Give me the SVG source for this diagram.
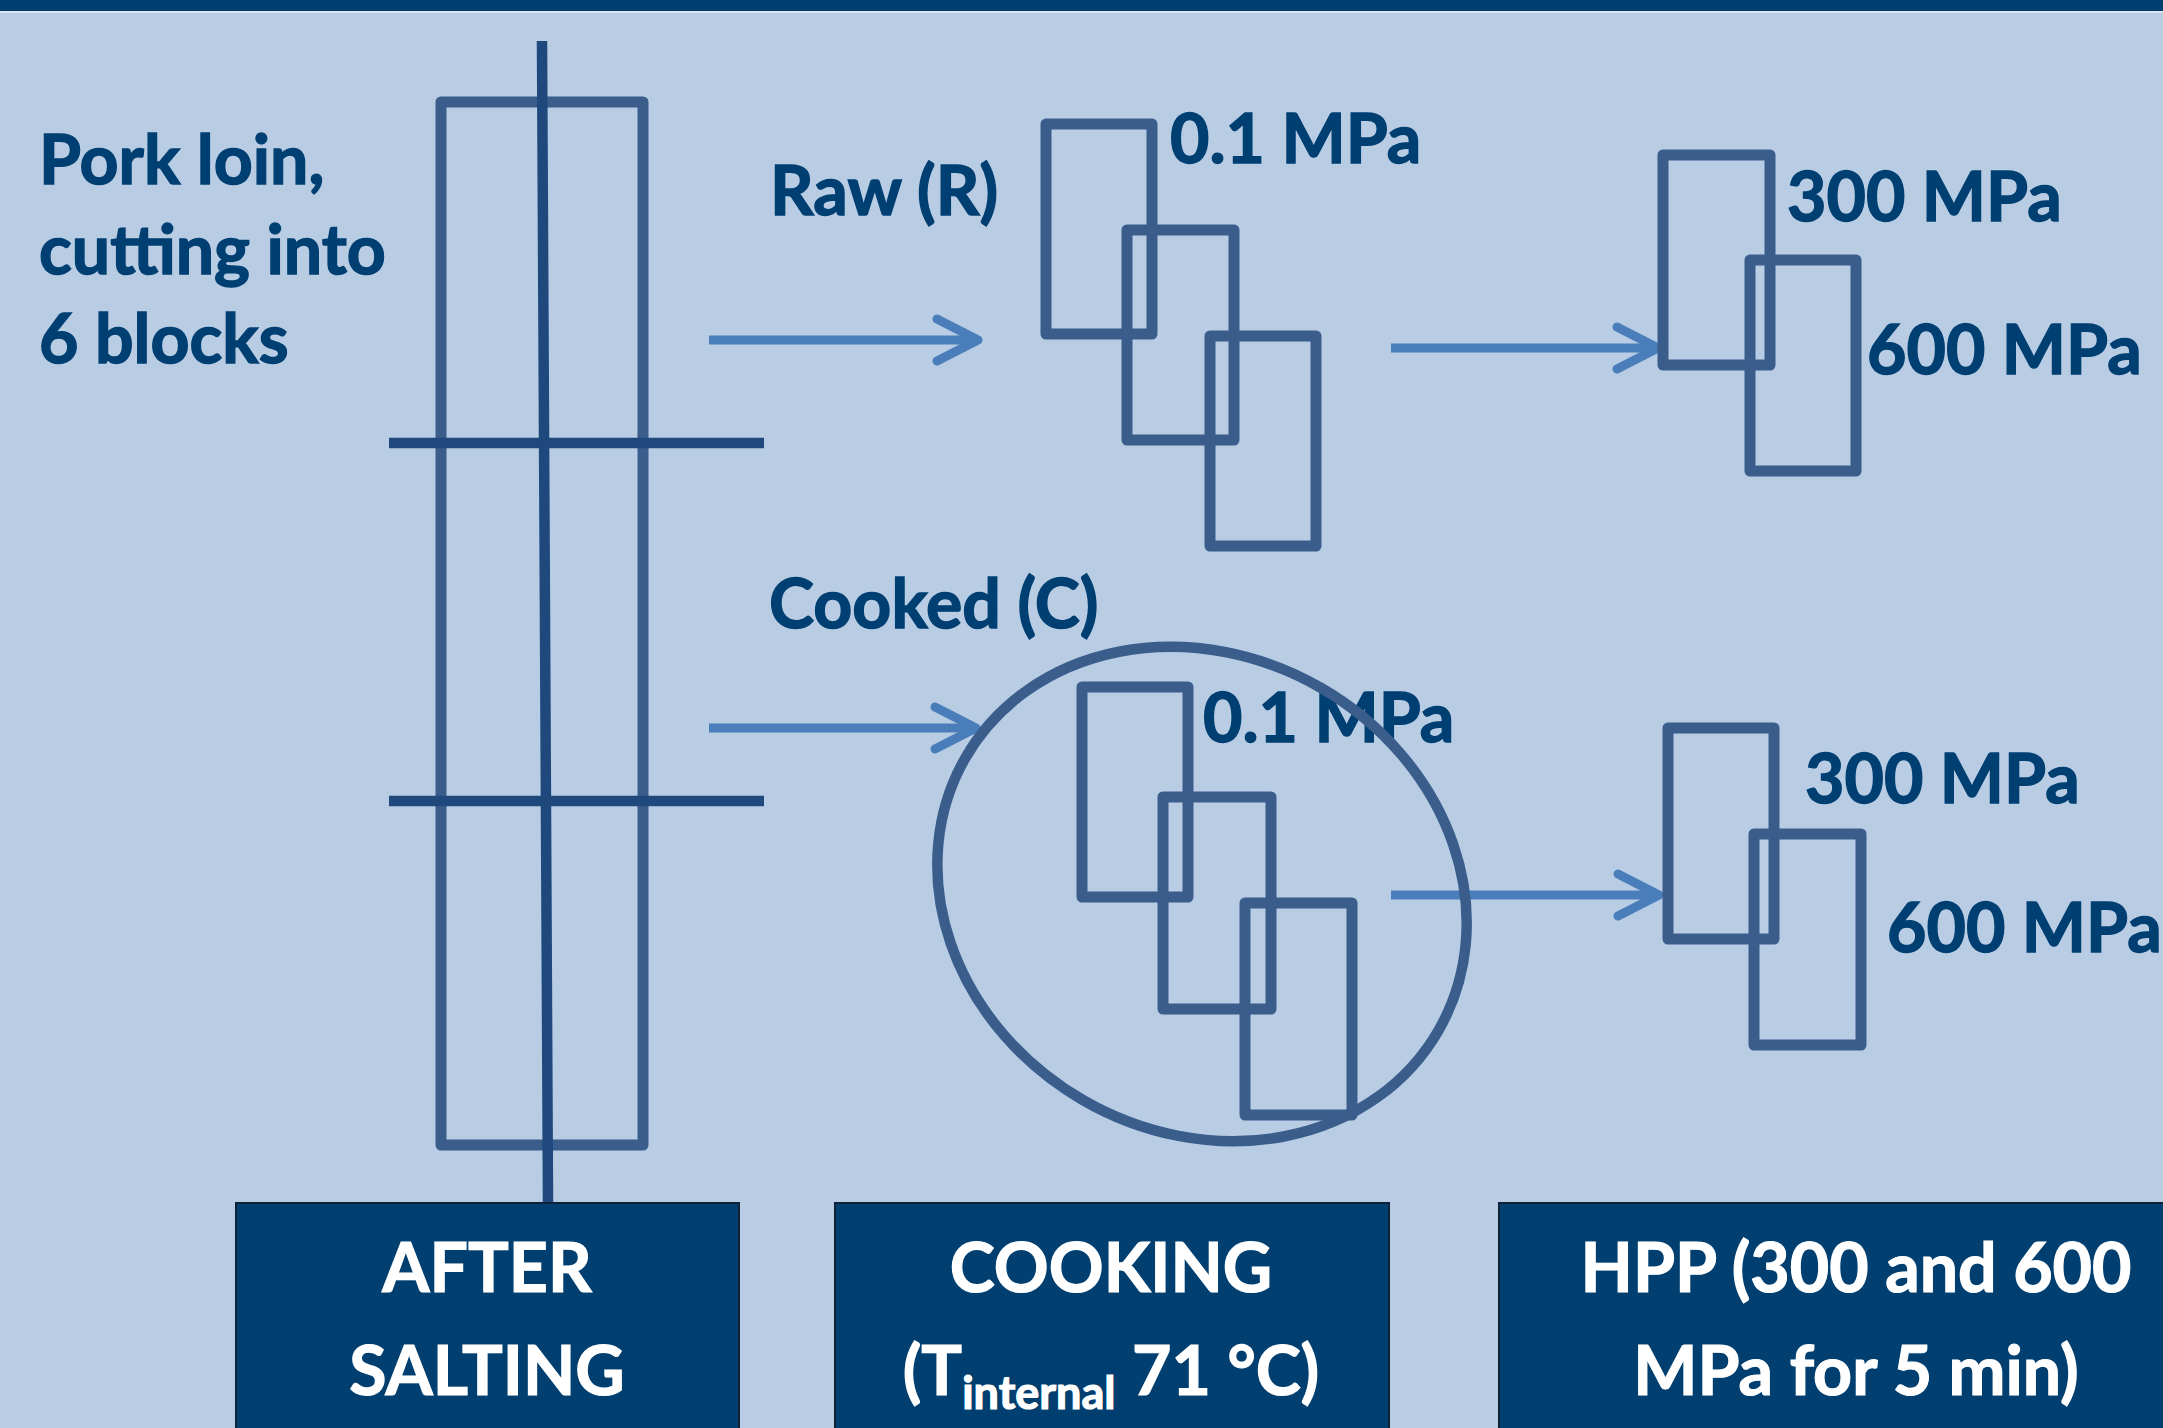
<svg xmlns="http://www.w3.org/2000/svg" width="2163" height="1428" viewBox="0 0 2163 1428">
<defs>
<style>
.bg{fill:#b8cce4}
.lbl{font-family:Lato,"Open Sans","Liberation Sans",sans-serif;font-weight:700;font-size:68px;fill:#003f72;stroke:#003f72;stroke-width:1.4}
.btxt{font-family:Lato,"Open Sans","Liberation Sans",sans-serif;font-weight:700;font-size:68px;fill:#ffffff;stroke:#ffffff;stroke-width:1.2;text-anchor:middle}
.blk{fill:none;stroke:#3a5d8c;stroke-width:11;stroke-linejoin:round}
.cut{fill:none;stroke:#1f497d;stroke-width:10.5}
.box{fill:#003f6f;stroke:#0e2238;stroke-width:2}
.arr{fill:none;stroke:#4a7ebb;stroke-width:9}
</style>
<marker id="ah" markerUnits="userSpaceOnUse" viewBox="-50 -30 60 60" markerWidth="60" markerHeight="60" refX="0" refY="0" orient="auto" overflow="visible">
<path d="M-41,-21 L0,0 L-41,21" fill="none" stroke="#4a7ebb" stroke-width="9" stroke-linecap="round" stroke-linejoin="round"/>
</marker>
</defs>
<rect class="bg" x="0" y="0" width="2163" height="1428"/>
<rect x="0" y="0" width="2163" height="11" fill="#003f6f"/>
<rect x="0" y="11" width="2163" height="2" fill="#dce6f1"/>

<g id="n-pork-label">
<text class="lbl" x="39" y="184">Pork loin,</text>
<text class="lbl" x="39" y="274">cutting into</text>
<text class="lbl" x="39" y="363">6 blocks</text>
</g>

<g id="n-loin">
<rect class="blk" x="441" y="102" width="202" height="1043"/>
<line class="cut" x1="389" y1="443" x2="764" y2="443"/>
<line class="cut" x1="389" y1="801" x2="764" y2="801"/>
<line class="cut" x1="542" y1="41" x2="548" y2="1203"/>
</g>

<g id="connectors">
<line class="arr" x1="709" y1="340" x2="978" y2="340" marker-end="url(#ah)"/>
<line class="arr" x1="709" y1="728" x2="976" y2="728" marker-end="url(#ah)"/>
<line class="arr" x1="1391" y1="348" x2="1658" y2="348" marker-end="url(#ah)"/>
<line class="arr" x1="1391" y1="895" x2="1659" y2="895" marker-end="url(#ah)"/>
</g>

<g id="n-raw">
<text class="lbl" x="770" y="215">Raw (R)</text>
<rect class="blk" x="1046" y="124" width="106" height="210"/>
<rect class="blk" x="1127" y="230" width="107" height="210"/>
<rect class="blk" x="1210" y="336" width="106" height="210"/>
<text class="lbl" x="1170" y="163">0.1 MPa</text>
</g>

<g id="n-cooked">
<text class="lbl" x="769" y="628">Cooked (C)</text>
<rect class="blk" x="1082" y="687" width="106" height="210"/>
<rect class="blk" x="1163" y="797" width="108" height="212"/>
<rect class="blk" x="1245" y="903" width="107" height="212"/>
<text class="lbl" x="1203" y="742">0.1 MPa</text>
<ellipse cx="1202" cy="894" rx="273" ry="238" transform="rotate(30 1202 894)" fill="none" stroke="#3a5d8c" stroke-width="10.5"/>
</g>

<g id="n-hpp-raw">
<rect class="blk" x="1663" y="155" width="107" height="210"/>
<rect class="blk" x="1750" y="260" width="106" height="211"/>
<text class="lbl" x="1787" y="221">300 MPa</text>
<text class="lbl" x="1867" y="374">600 MPa</text>
</g>

<g id="n-hpp-cooked">
<rect class="blk" x="1668" y="728" width="106" height="211"/>
<rect class="blk" x="1754" y="834" width="107" height="211"/>
<text class="lbl" x="1805" y="803">300 MPa</text>
<text class="lbl" x="1887" y="952">600 MPa</text>
</g>

<g id="n-box-salting">
<rect class="box" x="236" y="1203" width="503" height="240"/>
<text class="btxt" x="487" y="1292">AFTER</text>
<text class="btxt" x="487" y="1395">SALTING</text>
</g>

<g id="n-box-cooking">
<rect class="box" x="835" y="1203" width="554" height="240"/>
<text class="btxt" x="1111" y="1292">COOKING</text>
<text class="btxt" x="1111" y="1395">(T<tspan font-size="45" dy="14">internal</tspan><tspan dy="-14"> 71 °C)</tspan></text>
</g>

<g id="n-box-hpp">
<rect class="box" x="1499" y="1203" width="720" height="240"/>
<text class="btxt" x="1856" y="1292">HPP (300 and 600</text>
<text class="btxt" x="1856" y="1395">MPa for 5 min)</text>
</g>
</svg>
